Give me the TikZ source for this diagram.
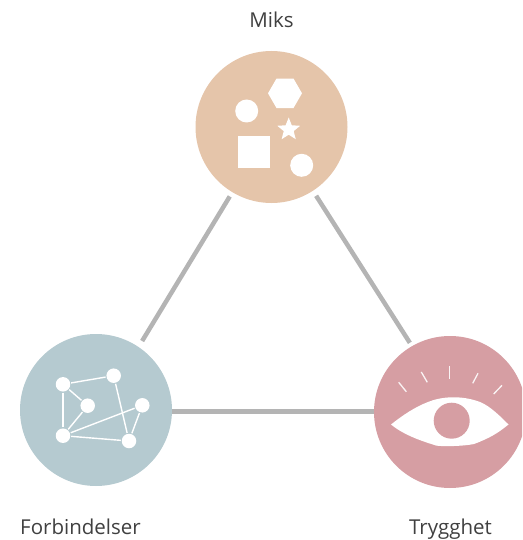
\documentclass[tikz,border=0pt]{standalone}
\usepackage{fontspec}
\setmainfont{Open Sans}
\usetikzlibrary{shapes.geometric}
\definecolor{miksfarge}{HTML}{E5C5AA}
\definecolor{forbfarge}{HTML}{B5CAD0}
\definecolor{trygfarge}{HTML}{D69EA3}
\definecolor{linjefarge}{HTML}{B4B4B4}
\definecolor{tekstfarge}{HTML}{404040}
\tikzset{
  stor/.style={circle, minimum size=152pt, inner sep=0pt, outer sep=0pt},
  prikk/.style={circle, fill=white, minimum size=14.5pt, inner sep=0pt, outer sep=1pt},
  rund/.style={circle, fill=white, minimum size=23pt, inner sep=0pt},
  kant/.style={white, line width=1.4pt},
  vippe/.style={white!88!trygfarge, line width=1.3pt},
  linje/.style={linjefarge, line width=4.5pt},
  etikett/.style={text=tekstfarge, font=\fontsize{20.5}{24}\selectfont, inner sep=0pt, anchor=base}
}
\begin{document}
\begin{tikzpicture}[x=1pt, y=-1pt]
    \useasboundingbox (0,0) rectangle (522,540);
    \clip (0,0) rectangle (522,540);

    \node[stor, fill=miksfarge] (miks) at (271.5,127) {};
    \node[stor, fill=forbfarge] (forb) at (96,410) {};
    \node[stor, fill=trygfarge] (tryg) at (450,412) {};

    \draw[linje, shorten <=5pt, shorten >=7pt] (miks.-121) -- (forb.56);
    \draw[linje, shorten <=6pt, shorten >=4pt] (miks.-57) -- (tryg.120);
    \draw[linje] ([yshift=-1.5pt]forb.east) -- ([yshift=0.5pt]tryg.west);

    \node[etikett] (miksnavn) at (271.5,28) {Miks};
    \node[etikett] (forbnavn) at (80.5,534) {Forbindelser};
    \node[etikett] (trygnavn) at (450.5,534) {Trygghet};

    % former
    \node[regular polygon, regular polygon sides=6, fill=white, minimum size=34pt, inner sep=0pt] (hex) at (285,93.3) {};
    \node[rund] (rund1) at (246.7,111) {};
    \node[rund] (rund2) at (301.7,165.3) {};
    \node[star, star points=5, star point ratio=2.3, fill=white, minimum size=24pt, inner sep=0pt] (stjerne) at (288.7,129.5) {};
    \node[rectangle, fill=white, minimum size=32pt, inner sep=0pt] (firkant) at (254.3,152) {};

    % nettverk
    \foreach \navn/\x/\y in {a/63/384.3, b/113.7/375.7, c/87.7/405.7, d/142.3/405.3, e/63/435.7, f/129/441}
      {
        \node[prikk] (\navn) at (\x,\y) {};
      }
    \foreach \fra/\til in {a/b, a/c, a/e, c/e, b/f, d/e, d/f, e/f}
      {
        \draw[kant] (\fra) -- (\til);
      }

    % oye
    \fill[white] (391,424.5)
      .. controls (403,415) and (415,407) .. (428,402)
      .. controls (440,397) and (460,394.5) .. (480,402)
      .. controls (490,406) and (500,416) .. (508.5,424.5)
      .. controls (498,433) and (490,438) .. (474,444)
      .. controls (462,446.5) and (440,446.5) .. (436,445.5)
      .. controls (425,442) and (405,436) .. (391,424.5) -- cycle;
    \node[circle, fill=trygfarge, minimum size=36pt, inner sep=0pt] (pupill) at (451.7,420.7) {};
    \foreach \xa/\ya/\xb/\yb in {398.7/382.3/406.3/391.7, 421.3/372/427.3/382.3, 449.7/366/449.7/378.7, 478/373.3/472.7/383.3, 502/385.3/493.7/394}
      {
        \draw[vippe] (\xa,\ya) -- (\xb,\yb);
      }
\end{tikzpicture}
\end{document}
